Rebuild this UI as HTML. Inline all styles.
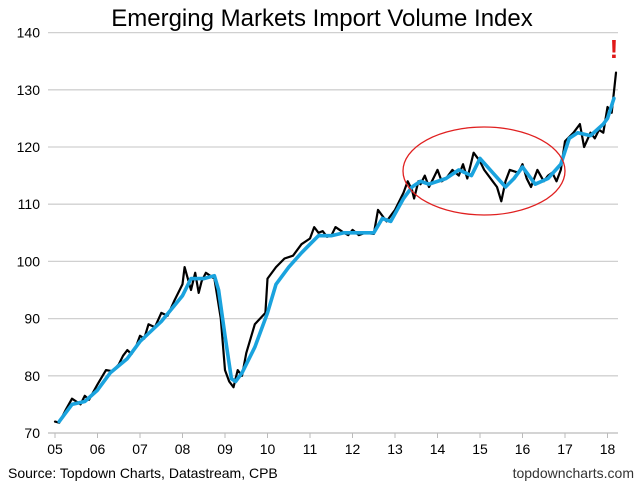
<!DOCTYPE html>
<html><head><meta charset="utf-8"><style>
body{margin:0;background:#fff;}
svg text{font-family:"Liberation Sans",Arial,sans-serif;}
</style></head><body>
<svg width="640" height="487" viewBox="0 0 640 487" xmlns="http://www.w3.org/2000/svg">
<rect width="640" height="487" fill="#fff"/>
<text x="322" y="26" text-anchor="middle" font-size="24" fill="#000">Emerging Markets Import Volume Index</text>
<g id="grid"></g><g id="ylab"></g><g id="xlab"></g>
<g id="lines"></g>
<ellipse cx="484" cy="171" rx="81" ry="44" fill="none" stroke="#e02020" stroke-width="1.3"/>
<text x="614" y="58" text-anchor="middle" font-size="26" font-weight="bold" fill="#e01818">!</text>
<text x="8" y="478" font-size="14" fill="#000">Source: Topdown Charts, Datastream, CPB</text>
<text x="634" y="478" text-anchor="end" font-size="14" fill="#333">topdowncharts.com</text>
</svg>
<script>
const yTicks=[70,80,90,100,110,120,130,140];
const xTickLabels=["05","06","07","08","09","10","11","12","13","14","15","16","17","18"];
const rawT=[2005.0,2005.1,2005.25,2005.4,2005.5,2005.6,2005.7,2005.8,2006.0,2006.2,2006.35,2006.5,2006.6,2006.7,2006.8,2006.9,2007.0,2007.1,2007.2,2007.35,2007.5,2007.65,2007.8,2008.0,2008.05,2008.2,2008.3,2008.38,2008.45,2008.55,2008.75,2008.9,2009.0,2009.1,2009.2,2009.3,2009.4,2009.5,2009.7,2009.95,2010.0,2010.2,2010.4,2010.6,2010.8,2011.0,2011.1,2011.2,2011.3,2011.4,2011.5,2011.6,2011.8,2011.9,2012.0,2012.15,2012.3,2012.5,2012.6,2012.8,2013.0,2013.2,2013.3,2013.4,2013.45,2013.55,2013.6,2013.7,2013.8,2013.9,2014.0,2014.1,2014.2,2014.35,2014.5,2014.6,2014.7,2014.85,2015.0,2015.1,2015.3,2015.4,2015.5,2015.6,2015.7,2015.9,2016.0,2016.1,2016.2,2016.35,2016.5,2016.6,2016.7,2016.8,2016.9,2017.0,2017.2,2017.35,2017.45,2017.6,2017.7,2017.8,2017.9,2018.0,2018.1,2018.2];
const rawV=[72,71.8,74,76,75.5,75,76.5,75.8,78.5,81,80.8,82,83.5,84.5,83.8,85,87,86.5,89,88.5,91,90.5,93,96,99,95,98,94.5,96.5,98,97,90,81,79,78,81,80,84,89,91,97,99,100.5,101,103,104,106,105,105.3,104.3,104.5,106,105,104.6,105.5,104.6,105,104.8,109,107,109,112,114,112.5,111,114,113.5,115,113,114.5,116,114,114.5,116,115,117,114.5,119,117.5,116,114,113,110.5,114,116,115.5,117,114.5,113,116,114,115,115.5,114,116,121,122.5,124,120,122.5,121.5,123,122.5,127,126,133];
const smT=[2005.1,2005.4,2005.7,2006.0,2006.3,2006.7,2007.0,2007.5,2008.0,2008.2,2008.5,2008.75,2008.85,2009.0,2009.15,2009.25,2009.4,2009.7,2010.0,2010.2,2010.5,2010.8,2011.0,2011.2,2011.5,2011.8,2012.2,2012.5,2012.7,2012.9,2013.2,2013.4,2013.6,2013.8,2014.2,2014.5,2014.8,2015.0,2015.3,2015.6,2015.8,2016.0,2016.3,2016.6,2016.9,2017.1,2017.3,2017.6,2017.9,2018.0,2018.15];
const smV=[72,75,75.5,77.5,80.5,83,86,89.5,94,97,97,97.5,95,87,79.5,79,80.5,85,91,96,99,101.5,103,104.5,104.5,105,105,105,107.5,107,111,113,114,113.5,114.5,116,115,118,115.5,113,114.5,116.5,113.5,114.5,117,121.5,122.5,122,124,125,128.5];
const NS="http://www.w3.org/2000/svg";
const X=t=>55+(t-2005)*42.5;
const Y=v=>433-(v-70)*5.72;
const grid=document.getElementById('grid'),yl=document.getElementById('ylab'),xl=document.getElementById('xlab'),ln=document.getElementById('lines');
yTicks.forEach(v=>{
 const l=document.createElementNS(NS,'line');
 
 
 l.setAttribute('x1',48);l.setAttribute('x2',618);l.setAttribute('y1',Y(v));l.setAttribute('y2',Y(v));
 l.setAttribute('stroke',v===70?'#bbb':'#d0d0d0');l.setAttribute('stroke-width',1.3);grid.appendChild(l);
 const t=document.createElementNS(NS,'text');
 
 
 t.setAttribute('x',40);t.setAttribute('y',Y(v)+5);t.setAttribute('text-anchor','end');t.setAttribute('font-size','14');t.textContent=v;yl.appendChild(t);
});
xTickLabels.forEach((s,i)=>{
 const x=X(2005+i);
 const k=document.createElementNS(NS,'line');
 
 
 k.setAttribute('x1',x);k.setAttribute('x2',x);k.setAttribute('y1',433);k.setAttribute('y2',438);k.setAttribute('stroke','#bbb');grid.appendChild(k);
 const t=document.createElementNS(NS,'text');
 
 
 t.setAttribute('x',x);t.setAttribute('y',454);t.setAttribute('text-anchor','middle');t.setAttribute('font-size','14');t.textContent=s;xl.appendChild(t);
});
function path(T,V,color,w,name){
 const p=document.createElementNS(NS,'path');
 
 
 p.setAttribute('d',T.map((t,i)=>(i?'L':'M')+X(t).toFixed(1)+','+Y(V[i]).toFixed(1)).join(''));
 p.setAttribute('fill','none');p.setAttribute('stroke',color);p.setAttribute('stroke-width',w);p.setAttribute('stroke-linejoin','round');p.setAttribute('stroke-linecap','round');
 ln.appendChild(p);
}
path(rawT,rawV,'#000',2.2,'import-volume-line');
path(smT,smV,'#1aa3de',3.6,'smoothed-trend-line');
</script>
</body></html>
